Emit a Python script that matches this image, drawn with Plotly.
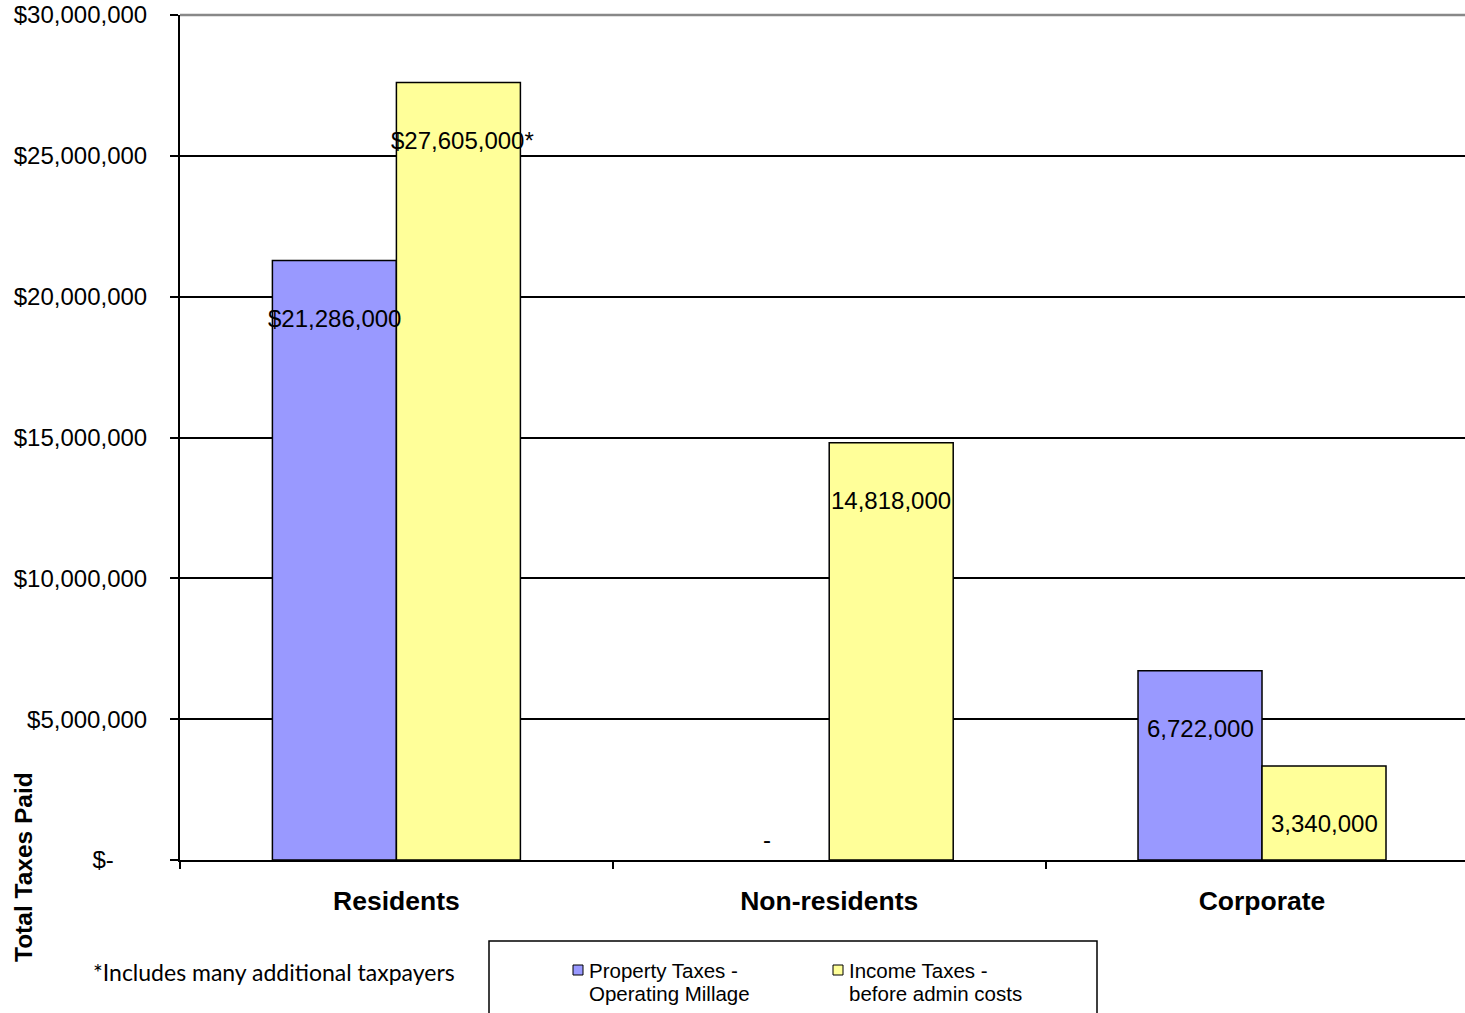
import plotly.graph_objects as go

# Taxpayer groups and totals paid (USD)
categories = ["Residents", "Non-residents", "Corporate"]
property_taxes = [21286000, 0, 6722000]
income_taxes = [27605000, 14818000, 3340000]

series_names = [["Property Taxes -", "Operating Millage"], ["Income Taxes -", "before admin costs"]]
label_prefix = ["$", "", ""]          # currency sign shown on resident labels only
income_suffix = ["*", "", ""]         # footnote marker on resident income label
property_suffix = ["", "", ""]

y_tickvals = [0, 5000000, 10000000, 15000000, 20000000, 25000000, 30000000]
y_ticktext = ["$-" + "\u00a0" * 5, "$5,000,000", "$10,000,000", "$15,000,000",
              "$20,000,000", "$25,000,000", "$30,000,000"]
footnote = "*Includes many additional taxpayers"
y_title = "Total Taxes Paid"

PURPLE = "#9999FF"
YELLOW = "#FFFF99"
BARGAP = 0.427
FONT = "Liberation Sans, Arial, sans-serif"


def outline(vals):
    # no outline on empty bars so nothing is drawn for them
    return [1.5 if v else 0 for v in vals]


fig = go.Figure()
fig.add_trace(go.Bar(x=categories, y=property_taxes, name="Property Taxes - Operating Millage",
                     marker=dict(color=PURPLE, line=dict(color="black", width=outline(property_taxes))),
                     showlegend=False, hoverinfo="x+y"))
fig.add_trace(go.Bar(x=categories, y=income_taxes, name="Income Taxes - before admin costs",
                     marker=dict(color=YELLOW, line=dict(color="black", width=outline(income_taxes))),
                     showlegend=False, hoverinfo="x+y"))


def fmt(v, prefix, suffix):
    if v == 0:
        return "-"
    return f"{prefix}{v:,}{suffix}"


# value labels, sitting just inside the top of each bar
bar_w = (1 - BARGAP) / 2
annotations = []
for i, cat in enumerate(categories):
    for vals, suffixes, off in ((property_taxes, property_suffix, -bar_w / 2),
                                (income_taxes, income_suffix, bar_w / 2)):
        v = vals[i]
        txt = fmt(v, label_prefix[i], suffixes[i])
        annotations.append(dict(
            x=i + off, y=v, xref="x", yref="y", text=txt, showarrow=False,
            xanchor="center", yanchor="middle",
            xshift=4 if suffixes[i] else 0,
            yshift=21 if v == 0 else -58,
            font=dict(family=FONT, size=24, color="black")))

PLOT_L, PLOT_R, PLOT_T, PLOT_B = 180, 1465, 15, 860
PW, PH = PLOT_R - PLOT_L, PLOT_B - PLOT_T


def px(xp):
    return (xp - PLOT_L) / PW


def py(yp):
    return (PLOT_B - yp) / PH


# axis title and footnote
annotations.append(dict(x=px(23), y=py(867), xref="paper", yref="paper", text=f"<b>{y_title}</b>",
                        textangle=-90, showarrow=False, xanchor="center", yanchor="middle",
                        font=dict(family=FONT, size=24.5, color="black")))
annotations.append(dict(x=px(274), y=py(972), xref="paper", yref="paper", text=footnote,
                        showarrow=False, xanchor="center", yanchor="middle",
                        font=dict(family="Lato, sans-serif", size=23, color="black")))

# legend: framed box with two swatches
shapes = [
    dict(type="rect", xref="paper", yref="paper", x0=px(489), x1=px(1097), y0=py(941), y1=py(1040),
         line=dict(color="black", width=1.5), fillcolor="rgba(0,0,0,0)"),
    # plot area top border
    dict(type="line", xref="paper", yref="paper", x0=0, x1=1, y0=1, y1=1,
         line=dict(color="#888888", width=2.5)),
]
legend_items = [(573, PURPLE, series_names[0]), (833, YELLOW, series_names[1])]
for x0, color, lines in legend_items:
    shapes.append(dict(type="rect", xref="paper", yref="paper", x0=px(x0), x1=px(x0 + 10),
                       y0=py(975), y1=py(965), line=dict(color="black", width=1), fillcolor=color))
    for k, line in enumerate(lines):
        annotations.append(dict(x=px(x0 + 14), y=py(970 + 23 * k), xref="paper", yref="paper",
                                text=line, showarrow=False, xanchor="left", yanchor="middle",
                                font=dict(family=FONT, size=20.5, color="black")))

fig.update_layout(
    width=1465, height=1013,
    margin=dict(l=PLOT_L, r=1465 - PLOT_R, t=PLOT_T, b=1013 - PLOT_B, pad=0),
    paper_bgcolor="white", plot_bgcolor="white",
    barmode="group", bargap=BARGAP, bargroupgap=0,
    annotations=annotations, shapes=shapes,
    font=dict(family=FONT, color="black"),
)
fig.update_xaxes(
    range=[-0.5, 2.469], showline=True, linecolor="black", linewidth=2,
    ticks="outside", tickson="boundaries", ticklen=7, tickcolor="black", tickwidth=1.5,
    tickfont=dict(family=FONT, size=26.5, color="black"),
    tickprefix="<b>", ticksuffix="</b>", ticklabelstandoff=16, showgrid=False,
)
fig.update_yaxes(
    range=[0, 30000000], tickvals=y_tickvals, ticktext=y_ticktext,
    showline=True, linecolor="black", linewidth=2,
    ticks="outside", ticklen=8, tickcolor="black", tickwidth=1.5,
    tickfont=dict(family=FONT, size=24, color="black"), ticklabelstandoff=18,
    showgrid=True, gridcolor="black", gridwidth=1.5, zeroline=False,
)

fig.write_html("out.html")
